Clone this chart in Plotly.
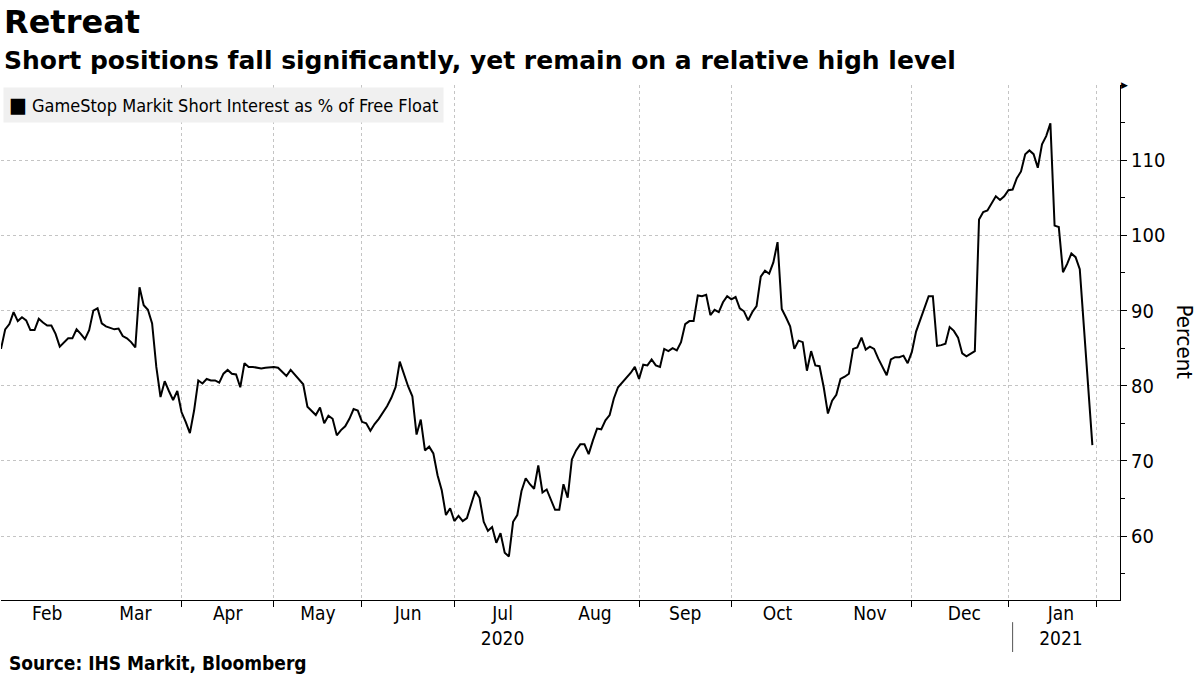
import pandas as pd
import plotly.graph_objects as go

# GameStop Markit short interest as % of free float, one value per weekday
dates = pd.bdate_range("2020-01-31", "2021-01-29")
short_interest = [
    84.9, 87.5, 88.2, 89.8, 88.6, 89.1, 88.7, 87.4, 87.4, 88.9,
    88.4, 88.0, 88.0, 86.9, 85.2, 85.8, 86.3, 86.3, 87.5, 86.9,
    86.2, 87.4, 90.0, 90.3, 88.3, 87.9, 87.7, 87.5, 87.6, 86.6,
    86.3, 85.8, 85.1, 93.1, 90.7, 90.1, 88.3, 82.5, 78.5, 80.6,
    79.3, 78.1, 79.3, 76.5, 75.2, 73.7, 76.7, 80.7, 80.3, 80.9,
    80.7, 80.7, 80.4, 81.6, 82.1, 81.6, 81.5, 79.8, 83.0, 82.5,
    82.5, 82.4, 82.3, 82.4, 82.5, 82.5, 82.4, 81.8, 81.3, 82.1,
    81.5, 80.8, 80.2, 77.2, 76.7, 76.1, 77.1, 75.0, 76.0, 75.6,
    73.4, 74.1, 74.6, 75.6, 76.9, 76.7, 75.2, 75.0, 74.0, 74.9,
    75.6, 76.5, 77.3, 78.4, 79.8, 83.2, 81.5, 79.9, 78.6, 73.5,
    75.5, 71.4, 71.9, 71.0, 68.1, 66.1, 62.8, 63.7, 62.0, 62.7,
    62.0, 62.4, 64.2, 66.0, 65.1, 61.9, 60.7, 61.2, 59.1, 60.4,
    57.8, 57.3, 61.9, 62.8, 66.0, 67.7, 66.9, 66.3, 69.4, 65.8,
    66.2, 64.8, 63.5, 63.5, 66.9, 65.1, 70.2, 71.4, 72.2, 72.2,
    70.9, 72.7, 74.3, 74.2, 75.4, 76.1, 78.3, 79.8, 80.4, 81.0,
    81.7, 82.5, 80.9, 82.8, 82.7, 83.5, 82.7, 82.5, 84.9, 84.6,
    85.0, 84.7, 85.8, 88.2, 88.6, 88.6, 92.0, 91.9, 92.1, 89.4,
    90.1, 89.8, 91.1, 91.9, 91.5, 91.8, 90.3, 89.9, 88.7, 89.8,
    90.6, 94.5, 95.3, 94.9, 96.4, 99.1, 90.2, 89.1, 87.9, 84.9,
    86.0, 85.8, 82.0, 84.6, 82.7, 82.6, 79.8, 76.3, 78.0, 78.8,
    80.9, 81.2, 81.6, 84.9, 85.1, 86.4, 84.8, 85.2, 84.9, 83.6,
    82.5, 81.4, 83.5, 83.8, 83.8, 84.0, 83.0, 84.5, 87.2, 88.8,
    90.3, 91.9, 91.9, 85.3, 85.4, 85.6, 87.8, 87.3, 86.4, 84.3,
    83.9, 84.3, 84.6, 102.1, 103.1, 103.3, 104.3, 105.2, 104.7, 105.2,
    106.0, 106.1, 107.6, 108.5, 110.8, 111.3, 110.8, 109.0, 112.1, 113.2,
    114.9, 101.3, 101.1, 95.1, 96.2, 97.6, 97.1, 95.5, 87.7, 79.9,
    72.1,
]

month_starts = pd.date_range("2020-02-01", "2021-02-01", freq="MS")
month_mids = ["2020-02-17", "2020-03-17", "2020-04-16", "2020-05-15 12:00",
              "2020-06-16", "2020-07-16 12:00", "2020-08-17 12:00", "2020-09-16",
              "2020-10-16", "2020-11-17", "2020-12-17 12:00", "2021-01-19 12:00"]
month_labels = ["Feb", "Mar", "Apr", "May", "Jun", "Jul<br>2020", "Aug", "Sep",
                "Oct", "Nov", "Dec", "Jan<br>2021"]
y_ticks = [60, 70, 80, 90, 100, 110, 120]
y_labels = ["60", "70", "80", "90", "100", "110", ""]
y_minor = [55, 65, 75, 85, 95, 105, 115]

GRID = "#c4c4c4"
COND = "DejaVu Sans Condensed"
fig = go.Figure()
fig.add_trace(go.Scatter(x=dates, y=short_interest, mode="lines",
                         line=dict(color="black", width=2), showlegend=False))

fig.update_layout(
    width=1200, height=675,
    margin=dict(l=1, r=80, t=85, b=75),
    paper_bgcolor="white", plot_bgcolor="white",
    font=dict(family="DejaVu Sans", color="black"),
    xaxis=dict(
        range=["2020-01-31", "2021-02-08 14:00"],
        rangebreaks=[dict(bounds=["sat", "mon"])],
        tickmode="array", tickvals=month_mids, ticktext=month_labels,
        ticks="", showgrid=False, zeroline=False, ticklabelstandoff=-4,
        showline=True, linecolor="black", linewidth=1,
        tickfont=dict(family=COND, size=19),
        minor=dict(tickmode="array", tickvals=list(month_starts), ticks="outside",
                   ticklen=6, tickcolor="black", showgrid=True,
                   gridcolor=GRID, griddash="dot", gridwidth=1),
    ),
    yaxis=dict(
        side="right", range=[51.5, 120],
        tickmode="array", tickvals=y_ticks, ticktext=y_labels,
        ticks="outside", ticklen=6, tickcolor="black",
        showgrid=True, gridcolor=GRID, griddash="dot", zeroline=False,
        showline=True, linecolor="black", linewidth=1,
        tickfont=dict(family=COND, size=20),
        minor=dict(tickmode="array", tickvals=y_minor, ticks="outside",
                   ticklen=4, tickcolor="black", showgrid=False),
    ),
)

fig.add_annotation(text="<b>Retreat</b>", xref="paper", yref="paper", x=0, y=1.122,
                   xanchor="left", yanchor="middle", xshift=1, showarrow=False,
                   font=dict(family="DejaVu Sans", size=32))
fig.add_annotation(text="<b>Short positions fall significantly, yet remain on a relative high level</b>",
                   xref="paper", yref="paper", x=0, y=1.0485, xanchor="left", yanchor="middle",
                   xshift=1, showarrow=False, font=dict(family="DejaVu Sans", size=25))
fig.add_annotation(text="<span style='font-size:21px'>■</span> GameStop Markit Short Interest as % of Free Float",
                   xref="paper", yref="paper", x=0, y=1, xanchor="left", yanchor="top",
                   xshift=2, yshift=-2, showarrow=False, bgcolor="#f0f0f0", borderpad=5,
                   font=dict(family=COND, size=18))
fig.add_annotation(text="Percent", xref="paper", yref="paper", x=1.058, y=0.5,
                   xanchor="center", yanchor="middle", textangle=90, showarrow=False,
                   font=dict(family=COND, size=22))
fig.add_annotation(text="<b>Source: IHS Markit, Bloomberg</b>", xref="paper", yref="paper",
                   x=0, y=-0.122, xanchor="left", yanchor="middle", xshift=6, showarrow=False,
                   font=dict(family=COND, size=19))
fig.add_annotation(text="▶", xref="paper", yref="paper", x=1, y=1, xanchor="left",
                   yanchor="middle", xshift=-1, showarrow=False,
                   font=dict(size=9, color="black"))

# year separator under the axis
fig.add_shape(type="line", xref="x", yref="paper", x0="2021-01-04", x1="2021-01-04",
              y0=-0.043, y1=-0.101, line=dict(color="#555555", width=1))

fig.write_html("out.html", config={"displayModeBar": False},
               post_script="document.body.style.margin='0';")
